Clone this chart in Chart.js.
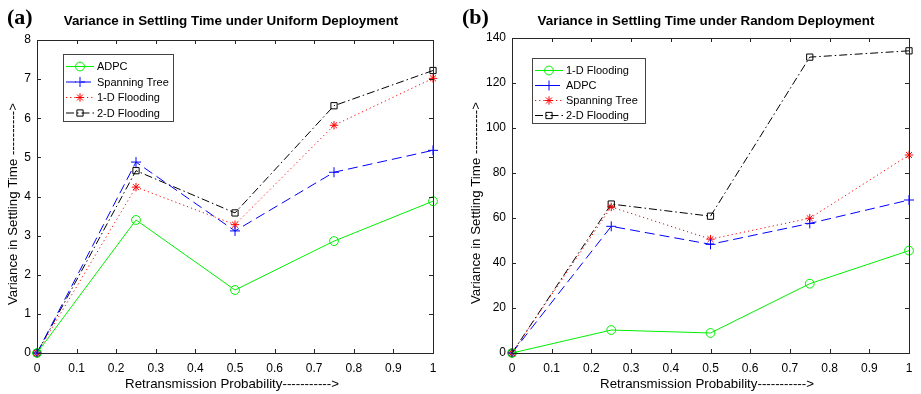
<!DOCTYPE html>
<html>
<head>
<meta charset="utf-8">
<script src="https://cdn.jsdelivr.net/npm/chart.js@4/dist/chart.umd.min.js"></script>
<style>
  html, body { margin: 0; padding: 0; background: #fff; }
  #wrap { position: relative; width: 921px; height: 394px; overflow: hidden; }
  .pane { position: absolute; top: 0; height: 394px; }
  #pa { left: 0; width: 460px; }
  #pb { left: 460px; width: 461px; }
  canvas { display: block; }
</style>
</head>
<body>
<div id="wrap">
  <div class="pane" id="pa"><canvas id="ca" width="460" height="394"></canvas></div>
  <div class="pane" id="pb"><canvas id="cb" width="461" height="394"></canvas></div>
</div>
<script>
// ---------- data ----------
const probabilities = [0, 0.25, 0.5, 0.75, 1];

// (a) Uniform deployment
const uniformADPC        = [0, 3.40, 1.61, 2.86, 3.88];
const uniformSpanning    = [0, 4.88, 3.12, 4.62, 5.18];
const uniform1DFlooding  = [0, 4.24, 3.28, 5.82, 7.02];
const uniform2DFlooding  = [0, 4.66, 3.58, 6.32, 7.22];

// (b) Random deployment
const random1DFlooding   = [0, 10.2, 8.9, 30.8, 45.5];
const randomADPC         = [0, 56.3, 48.3, 57.6, 68.0];
const randomSpanning     = [0, 64.9, 50.6, 59.9, 88.0];
const random2DFlooding   = [0, 66.2, 60.8, 131.5, 134.3];

const xTicks = [0, 0.1, 0.2, 0.3, 0.4, 0.5, 0.6, 0.7, 0.8, 0.9, 1];
const yTicksA = [0, 1, 2, 3, 4, 5, 6, 7, 8];
const yTicksB = [0, 20, 40, 60, 80, 100, 120, 140];

const xTitle = 'Retransmission Probability----------->';
const yTitle = 'Variance in Settling Time ---------->';

const FONT = "'Liberation Sans', Arial, Helvetica, sans-serif";
const AXC = '#262626';

const STY = {
  solidG:  { color: '#00f000', dash: [], point: 'circle', radius: 4.4 },
  dashB:   { color: '#0000ff', dash: [10, 5], point: 'cross', radius: 5 },
  dotR:    { color: '#ff0000', dash: [1.2, 3], point: 'star', radius: 4.2 },
  dashdotK:{ color: '#000000', dash: [8, 3, 1.5, 3], point: 'rect', radius: 4.4 }
};

function ds(label, values, st) {
  return {
    label: label,
    data: probabilities.map((x, i) => ({ x: x, y: values[i] })),
    borderColor: st.color,
    borderWidth: 1,
    borderDash: st.dash,
    pointStyle: st.point,
    pointRadius: st.radius,
    pointHoverRadius: st.radius,
    pointBorderColor: st.color,
    pointBackgroundColor: 'rgba(0,0,0,0)',
    pointBorderWidth: 1,
    tension: 0,
    fill: false,
    clip: false
  };
}

function drawMarker(ctx, style, x, y, r, color) {
  ctx.save();
  ctx.setLineDash([]);
  ctx.strokeStyle = color;
  ctx.lineWidth = 1;
  ctx.beginPath();
  if (style === 'circle') {
    ctx.arc(x, y, r, 0, Math.PI * 2);
  } else if (style === 'rect') {
    const s = Math.SQRT1_2 * r;
    ctx.rect(x - s, y - s, 2 * s, 2 * s);
  } else if (style === 'cross') {
    ctx.moveTo(x - r, y); ctx.lineTo(x + r, y);
    ctx.moveTo(x, y - r); ctx.lineTo(x, y + r);
  } else if (style === 'star') {
    ctx.moveTo(x - r, y); ctx.lineTo(x + r, y);
    ctx.moveTo(x, y - r); ctx.lineTo(x, y + r);
    const d = r * Math.SQRT1_2;
    ctx.moveTo(x - d, y - d); ctx.lineTo(x + d, y + d);
    ctx.moveTo(x - d, y + d); ctx.lineTo(x + d, y - d);
  }
  ctx.stroke();
  ctx.restore();
}

function framePlugin(cfg) {
  return {
    id: 'frame',
    afterDraw(chart) {
      const ctx = chart.ctx;
      const a = chart.chartArea;
      const xs = chart.scales.x, ys = chart.scales.y;
      ctx.save();
      // box
      ctx.strokeStyle = AXC;
      ctx.lineWidth = 1;
      ctx.setLineDash([]);
      ctx.strokeRect(Math.round(a.left) + 0.5, Math.round(a.top) + 0.5,
                     Math.round(a.right - a.left), Math.round(a.bottom - a.top));
      // inward ticks
      const L = 4;
      ctx.beginPath();
      xs.ticks.forEach(t => {
        const px = Math.round(xs.getPixelForValue(t.value)) + 0.5;
        ctx.moveTo(px, a.bottom); ctx.lineTo(px, a.bottom - L);
        ctx.moveTo(px, a.top); ctx.lineTo(px, a.top + L);
      });
      ys.ticks.forEach(t => {
        const py = Math.round(ys.getPixelForValue(t.value)) + 0.5;
        ctx.moveTo(a.left, py); ctx.lineTo(a.left + L, py);
        ctx.moveTo(a.right, py); ctx.lineTo(a.right - L, py);
      });
      ctx.stroke();

      // panel letter and title
      ctx.fillStyle = '#000';
      ctx.textBaseline = 'middle';
      ctx.textAlign = 'left';
      ctx.font = "bold 22px 'Liberation Serif', 'Times New Roman', serif";
      ctx.fillText(cfg.letter, cfg.letterX, 18);
      ctx.textAlign = 'center';
      ctx.font = "bold 13.4px " + FONT;
      ctx.fillText(cfg.title, cfg.titleX, 21);

      // axis titles
      ctx.font = "13.3px " + FONT;
      ctx.fillText(xTitle, cfg.xTitleX, 384);
      ctx.save();
      ctx.translate(cfg.yTitleX, cfg.yTitleY);
      ctx.rotate(-Math.PI / 2);
      ctx.fillText(yTitle, 0, 0);
      ctx.restore();

      // legend
      const lg = cfg.legend;
      ctx.fillStyle = '#fff';
      ctx.fillRect(lg.x, lg.y, lg.w, lg.h);
      ctx.strokeStyle = '#444';
      ctx.strokeRect(lg.x + 0.5, lg.y + 0.5, lg.w, lg.h);
      ctx.font = "11px " + FONT;
      ctx.textAlign = 'left';
      ctx.textBaseline = 'middle';
      chart.data.datasets.forEach((d, i) => {
        const y = lg.row0 + i * lg.rowH;
        ctx.save();
        ctx.strokeStyle = d.borderColor;
        ctx.lineWidth = 1;
        ctx.setLineDash(d.borderDash);
        ctx.beginPath();
        ctx.moveTo(lg.x + 3, y + 0.5);
        ctx.lineTo(lg.x + 31, y + 0.5);
        ctx.stroke();
        ctx.restore();
        drawMarker(ctx, d.pointStyle, lg.x + 17, y + 0.5, d.pointRadius, d.borderColor);
        ctx.fillStyle = '#000';
        ctx.fillText(d.label, lg.x + 34, y + 1);
      });
      ctx.restore();
    }
  };
}

function makeChart(canvasId, datasets, yMax, yTickList, layoutPad, yWidth, cfg) {
  return new Chart(document.getElementById(canvasId), {
    type: 'line',
    data: { datasets: datasets },
    options: {
      responsive: false,
      animation: false,
      devicePixelRatio: 1,
      events: [],
      layout: { padding: layoutPad },
      plugins: { legend: { display: false }, tooltip: { enabled: false }, title: { display: false } },
      scales: {
        x: {
          type: 'linear', min: 0, max: 1,
          grid: { display: false, drawTicks: false },
          border: { display: false },
          afterBuildTicks: s => { s.ticks = xTicks.map(v => ({ value: v })); },
          afterFit: s => { s.height = 41; },
          ticks: {
            padding: 8, color: '#000', maxRotation: 0, autoSkip: false,
            font: { family: FONT, size: 12 },
            callback: v => String(Math.round(v * 10) / 10)
          },
          title: { display: false }
        },
        y: {
          type: 'linear', min: 0, max: yMax,
          grid: { display: false, drawTicks: false },
          border: { display: false },
          afterBuildTicks: s => { s.ticks = yTickList.map(v => ({ value: v })); },
          afterFit: s => { s.width = yWidth; },
          ticks: {
            padding: 6, color: '#000', autoSkip: false,
            font: { family: FONT, size: 12 }
          },
          title: { display: false }
        }
      }
    },
    plugins: [framePlugin(cfg)]
  });
}

makeChart('ca', [
  ds('ADPC', uniformADPC, STY.solidG),
  ds('Spanning Tree', uniformSpanning, STY.dashB),
  ds('1-D Flooding', uniform1DFlooding, STY.dotR),
  ds('2-D Flooding', uniform2DFlooding, STY.dashdotK)
], 8, yTicksA, { left: 0, top: 40, right: 27, bottom: 0 }, 37, {
  letter: '(a)', letterX: 7,
  title: 'Variance in Settling Time under Uniform Deployment', titleX: 231,
  xTitleX: 232, yTitleX: 13, yTitleY: 204,
  legend: { x: 63, y: 54, w: 110, h: 67, row0: 66, rowH: 15.5 }
});

makeChart('cb', [
  ds('1-D Flooding', random1DFlooding, STY.solidG),
  ds('ADPC', randomADPC, STY.dashB),
  ds('Spanning Tree', randomSpanning, STY.dotR),
  ds('2-D Flooding', random2DFlooding, STY.dashdotK)
], 140, yTicksB, { left: 0, top: 38, right: 12, bottom: 0 }, 52, {
  letter: '(b)', letterX: 2,
  title: 'Variance in Settling Time under Random Deployment', titleX: 246,
  xTitleX: 247, yTitleX: 16, yTitleY: 203,
  legend: { x: 72, y: 58, w: 113, h: 65, row0: 70, rowH: 15 }
});
</script>
</body>
</html>
